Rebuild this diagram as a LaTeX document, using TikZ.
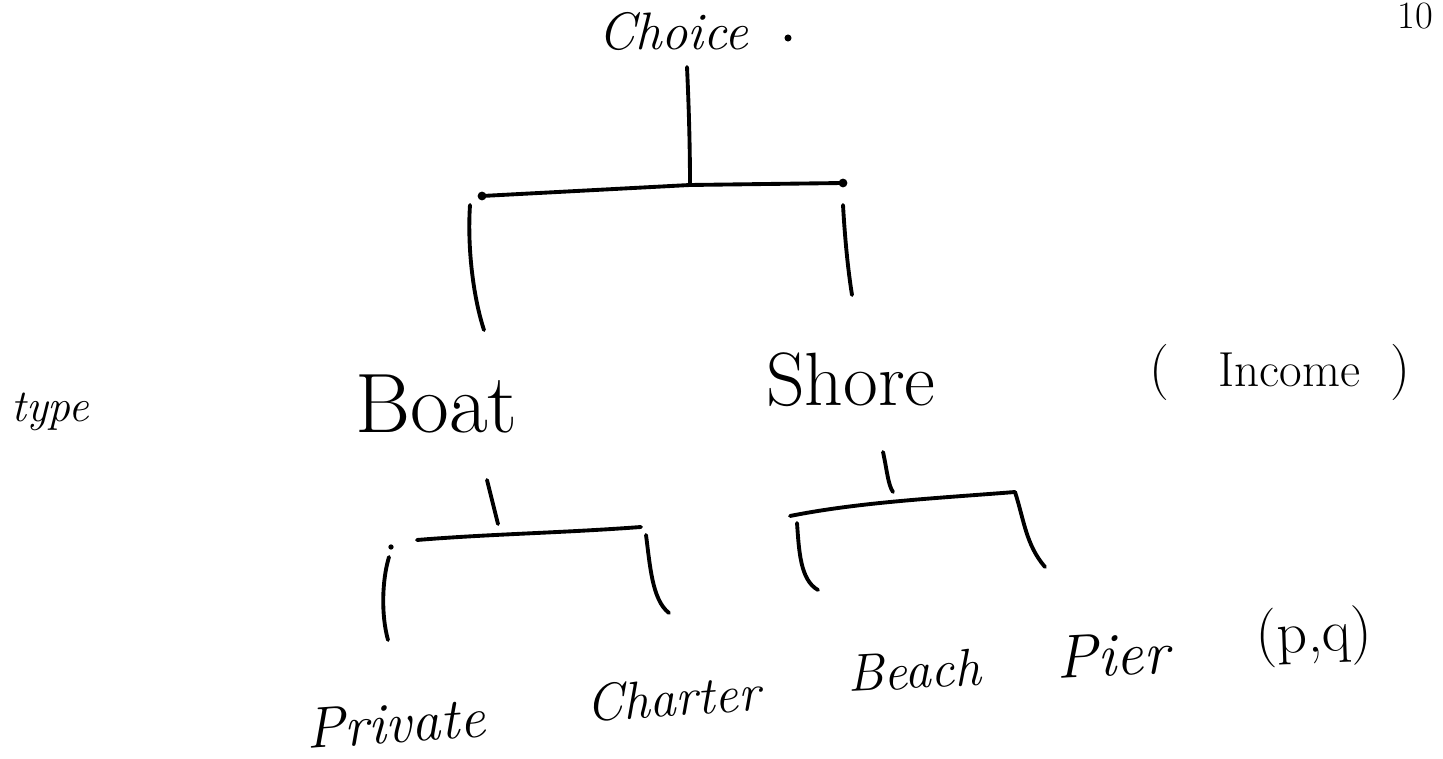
\documentclass[tikz,border=0pt]{standalone}
\begin{document}
\begin{tikzpicture}[x=0.02cm,y=-0.02cm,
  pen/.style={line width=2.2pt,line cap=round,line join=round},
  lbl/.style={inner sep=0pt,anchor=base west},
  dotmark/.style={circle,fill,inner sep=0pt,minimum size=5pt}]
\useasboundingbox[fill=white] (0,0) rectangle (1443,759);

% level labels
\node[lbl,font=\itshape\fontsize{30}{36}\selectfont] (choice) at (598,50) {Choice};
\node[dotmark,minimum size=4pt] (stop) at (788,38) {};
\node[lbl,font=\fontsize{22}{26}\selectfont] (page) at (1397,29) {10};
\node[lbl,font=\itshape\fontsize{26}{30}\selectfont] (type) at (11,422) {type};
\node[lbl,font=\fontsize{48}{54}\selectfont] (boat) at (355,433) {Boat};
\node[lbl,font=\fontsize{43}{50}\selectfont] (shore) at (766,406) {Shore};
\node[lbl,font=\fontsize{28}{34}\selectfont] (income) at (1149,387)
  {{\fontsize{32}{36}\selectfont(}\hspace{28pt}Income\hspace{17pt}{\fontsize{32}{36}\selectfont)}};
\node[lbl,font=\itshape\fontsize{33}{40}\selectfont,rotate=4] (private) at (307,749) {Private};
\node[lbl,font=\itshape\fontsize{30}{36}\selectfont,rotate=4] (charter) at (587,722) {Charter};
\node[lbl,font=\itshape\fontsize{30}{36}\selectfont,rotate=3] (beach) at (848,692) {Beach};
\node[lbl,font=\itshape\fontsize{35}{40}\selectfont,rotate=3] (pier) at (1057,679) {Pier};
\node[lbl,font=\fontsize{34}{40}\selectfont,rotate=2] (pq) at (1256,654) {(p,q)};

% top level: Choice splits into Boat and Shore
\coordinate (rootbar) at (690,185);
\coordinate (barL) at (482,196);
\coordinate (barR) at (843,183);
\coordinate (rootTop) at (687,67);
\draw[pen] (rootTop) .. controls (689,110) and (690,150) .. (rootbar);
\draw[pen] (barL) -- (rootbar) -- (barR);
\node[dotmark] (barLdot) at (barL) {};
\node[dotmark] (barRdot) at (barR) {};
\coordinate (bTopA) at (470,205);
\coordinate (bTopB) at (484,330);
\coordinate (sTopA) at (843,205);
\coordinate (sTopB) at (852,295);
\draw[pen] (bTopA) .. controls (467,250) and (474,300) .. (bTopB);
\draw[pen] (sTopA) .. controls (845,240) and (848,270) .. (sTopB);

% Boat splits into Private and Charter
\coordinate (bTickA) at (487,480);
\coordinate (bTickB) at (498,524);
\coordinate (bBarL) at (417,540);
\coordinate (bBarR) at (641,527);
\draw[pen] (bTickA) -- (bTickB);
\draw[pen] (bBarL) .. controls (490,534) and (560,533) .. (bBarR);
\node[dotmark,minimum size=3pt] (bDot) at (391,547) {};
\coordinate (pA) at (389,557);
\coordinate (pB) at (388,640);
\draw[pen] (pA) .. controls (382,580) and (381,615) .. (pB);
\coordinate (cA) at (646,535);
\coordinate (cB) at (669,613);
\draw[pen] (cA) .. controls (650,565) and (652,600) .. (cB);

% Shore splits into Beach and Pier
\coordinate (sTickA) at (883,452);
\coordinate (sTickB) at (893,492);
\coordinate (sBarL) at (790,516);
\coordinate (sBarR) at (1015,492);
\draw[pen] (sTickA) .. controls (887,470) and (888,485) .. (sTickB);
\draw[pen] (sBarL) .. controls (860,502) and (940,498) .. (sBarR);
\coordinate (beA) at (797,523);
\coordinate (beB) at (818,590);
\draw[pen] (beA) .. controls (799,550) and (800,580) .. (beB);
\coordinate (piB) at (1045,567);
\draw[pen] (sBarR) .. controls (1024,520) and (1026,545) .. (piB);
\end{tikzpicture}
\end{document}
